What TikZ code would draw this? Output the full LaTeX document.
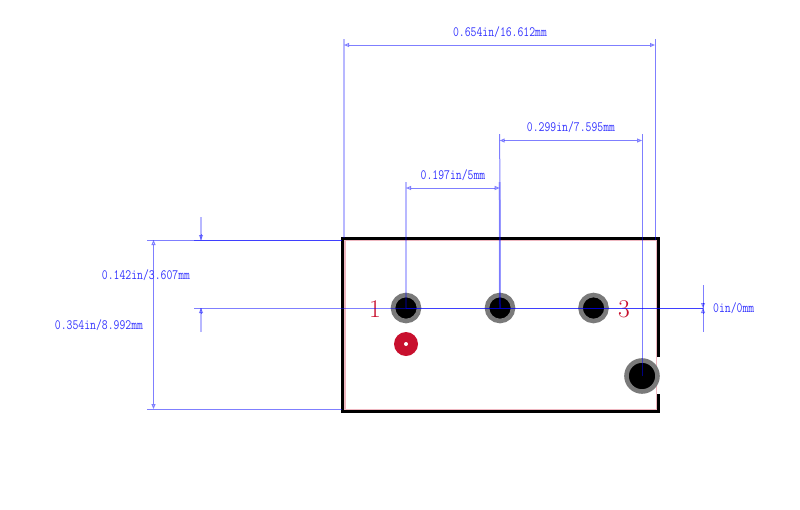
\documentclass[tikz,border=0pt]{standalone}
\usepackage{tikz}
\usetikzlibrary{arrows.meta}
\definecolor{padred}{RGB}{200,16,46}
\definecolor{padgrey}{RGB}{122,122,122}
\tikzset{
	dimline/.style={draw=blue,opacity=.5,line width=1pt},
	dimwide/.style={draw=blue,opacity=.28,line width=2pt},
	dimarrow/.style={dimline,{Triangle[open,length=5pt,width=4pt]}-{Triangle[open,length=5pt,width=4pt]}},
	dimhead/.style={dimline,-{Triangle[open,length=5pt,width=4pt]}},
	dimtext/.style={text=blue!80!white,font=\ttfamily\fontsize{11.4}{12}\selectfont,inner sep=0pt,transform shape,yscale=1.25},
	pinlabel/.style={text=padred,font=\fontsize{25.5}{26}\selectfont,inner sep=0pt},
	pad/.style={draw=padgrey,fill=black,shape=circle,inner sep=0pt,line width=4.6pt,minimum size=26pt},
	bigpad/.style={pad,line width=4.6pt,minimum size=31pt},
	pinone/.style={fill=padred,shape=circle,inner sep=0pt,minimum size=24pt},
	pinhole/.style={fill=white,shape=circle,inner sep=0pt,minimum size=4pt},
	outline/.style={draw=black,line width=3pt,line cap=butt},
	courtyard/.style={draw=padred,opacity=.3,line width=1.5pt}
}
\begin{document}
\begin{tikzpicture}[x=1pt,y=-1pt]
	\useasboundingbox (0,0) rectangle (800,509);
	%body
	\coordinate (tl) at (342.3,238.4);
	\coordinate (tr) at (658.3,238.4);
	\coordinate (gapt) at (658.3,357);
	\coordinate (gapb) at (658.3,394);
	\coordinate (br) at (658.3,411.6);
	\coordinate (bl) at (342.3,411.6);
	\coordinate (ctl) at (345,240.7);
	\coordinate (cbr) at (656.3,410);
	\draw[courtyard] (ctl) rectangle (cbr);
	\draw[outline] (gapt)--(tr)--(tl)--(bl)--(br)--(gapb);

	%pads
	\node[pad] (p1) at (406,308) {};
	\node[pad] (p2) at (500,308) {};
	\node[pad] (p3) at (593.5,308) {};
	\node[bigpad] (p4) at (642,376) {};
	\node[pinone] (mark) at (406,344) {};
	\node[pinhole] (hole) at (406,344) {};
	\node[pinlabel] (one) at (375,309) {1};
	\node[pinlabel] (three) at (624,309) {3};

	%top dimensions
	\coordinate (a1) at (344,39);
	\coordinate (a2) at (344,238);
	\coordinate (a3) at (344,45);
	\coordinate (a4) at (655,39);
	\coordinate (a5) at (655,240);
	\coordinate (a6) at (655,45);
	\draw[dimwide] (a1)--(a2);
	\draw[dimline] (a4)--(a5);
	\draw[dimarrow] (a3)--(a6);
	\node[dimtext] (t1) at (500,32) {0.654in/16.612mm};

	\coordinate (b1) at (499.7,134);
	\coordinate (b2) at (499.7,140.5);
	\coordinate (b3) at (642,134);
	\coordinate (b4) at (642,140.5);
	\draw[dimline] (b1)--(p2.center);
	\draw[dimline] (b3)--(p4.center);
	\draw[dimarrow] (b2)--(b4);
	\node[dimtext] (t2) at (571,127) {0.299in/7.595mm};

	\coordinate (c1) at (406,182);
	\coordinate (c2) at (406,188);
	\coordinate (c3) at (499.7,188);
	\coordinate (c4) at (499.7,182);
	\draw[dimwide] (c1)--(p1.center);
	\draw[dimwide] (c4)--(p2.center);
	\draw[dimarrow] (c2)--(c3);
	\node[dimtext] (t3) at (453,175) {0.197in/5mm};

	%left dimensions
	\coordinate (d1) at (147,240);
	\coordinate (d2) at (342,240);
	\coordinate (d3) at (147,409);
	\coordinate (d4) at (342,409);
	\coordinate (d5) at (153.5,240);
	\coordinate (d6) at (153.5,409);
	\draw[dimline] (d1)--(d2);
	\draw[dimline] (d3)--(d4);
	\draw[dimarrow] (d5)--(d6);
	\node[dimtext] (t4) at (99,325) {0.354in/8.992mm};

	\coordinate (e1) at (194,240);
	\coordinate (e2) at (194,308);
	\coordinate (e3) at (201,217);
	\coordinate (e4) at (201,240);
	\coordinate (e5) at (201,332);
	\coordinate (e6) at (201,308);
	\draw[dimline] (e1)--(d2);
	\draw[dimline] (e2)--(p1.center);
	\draw[dimwide,-] (e3)--(e4);
	\draw[dimwide,-] (e5)--(e6);
	\draw[dimhead] (e4)+(0,-6)--(e4);
	\draw[dimhead] (e6)+(0,6)--(e6);
	\node[dimtext] (t5) at (146,275) {0.142in/3.607mm};

	%right dimension
	\coordinate (f1) at (703,308);
	\coordinate (f2) at (703,285);
	\coordinate (f3) at (703,332);
	\coordinate (f4) at (703,303);
	\coordinate (f5) at (703,313);
	\draw[dimline] (p1.center)--(f1);
	\draw[dimline] (p1.center)--(f1);
	\draw[dimline] (f2)--(f3);
	\draw[dimhead] (f4)--(f1);
	\draw[dimhead] (f5)--(f1);
	\node[dimtext,anchor=west] (t6) at (713,308) {0in/0mm};
\end{tikzpicture}
\end{document}
